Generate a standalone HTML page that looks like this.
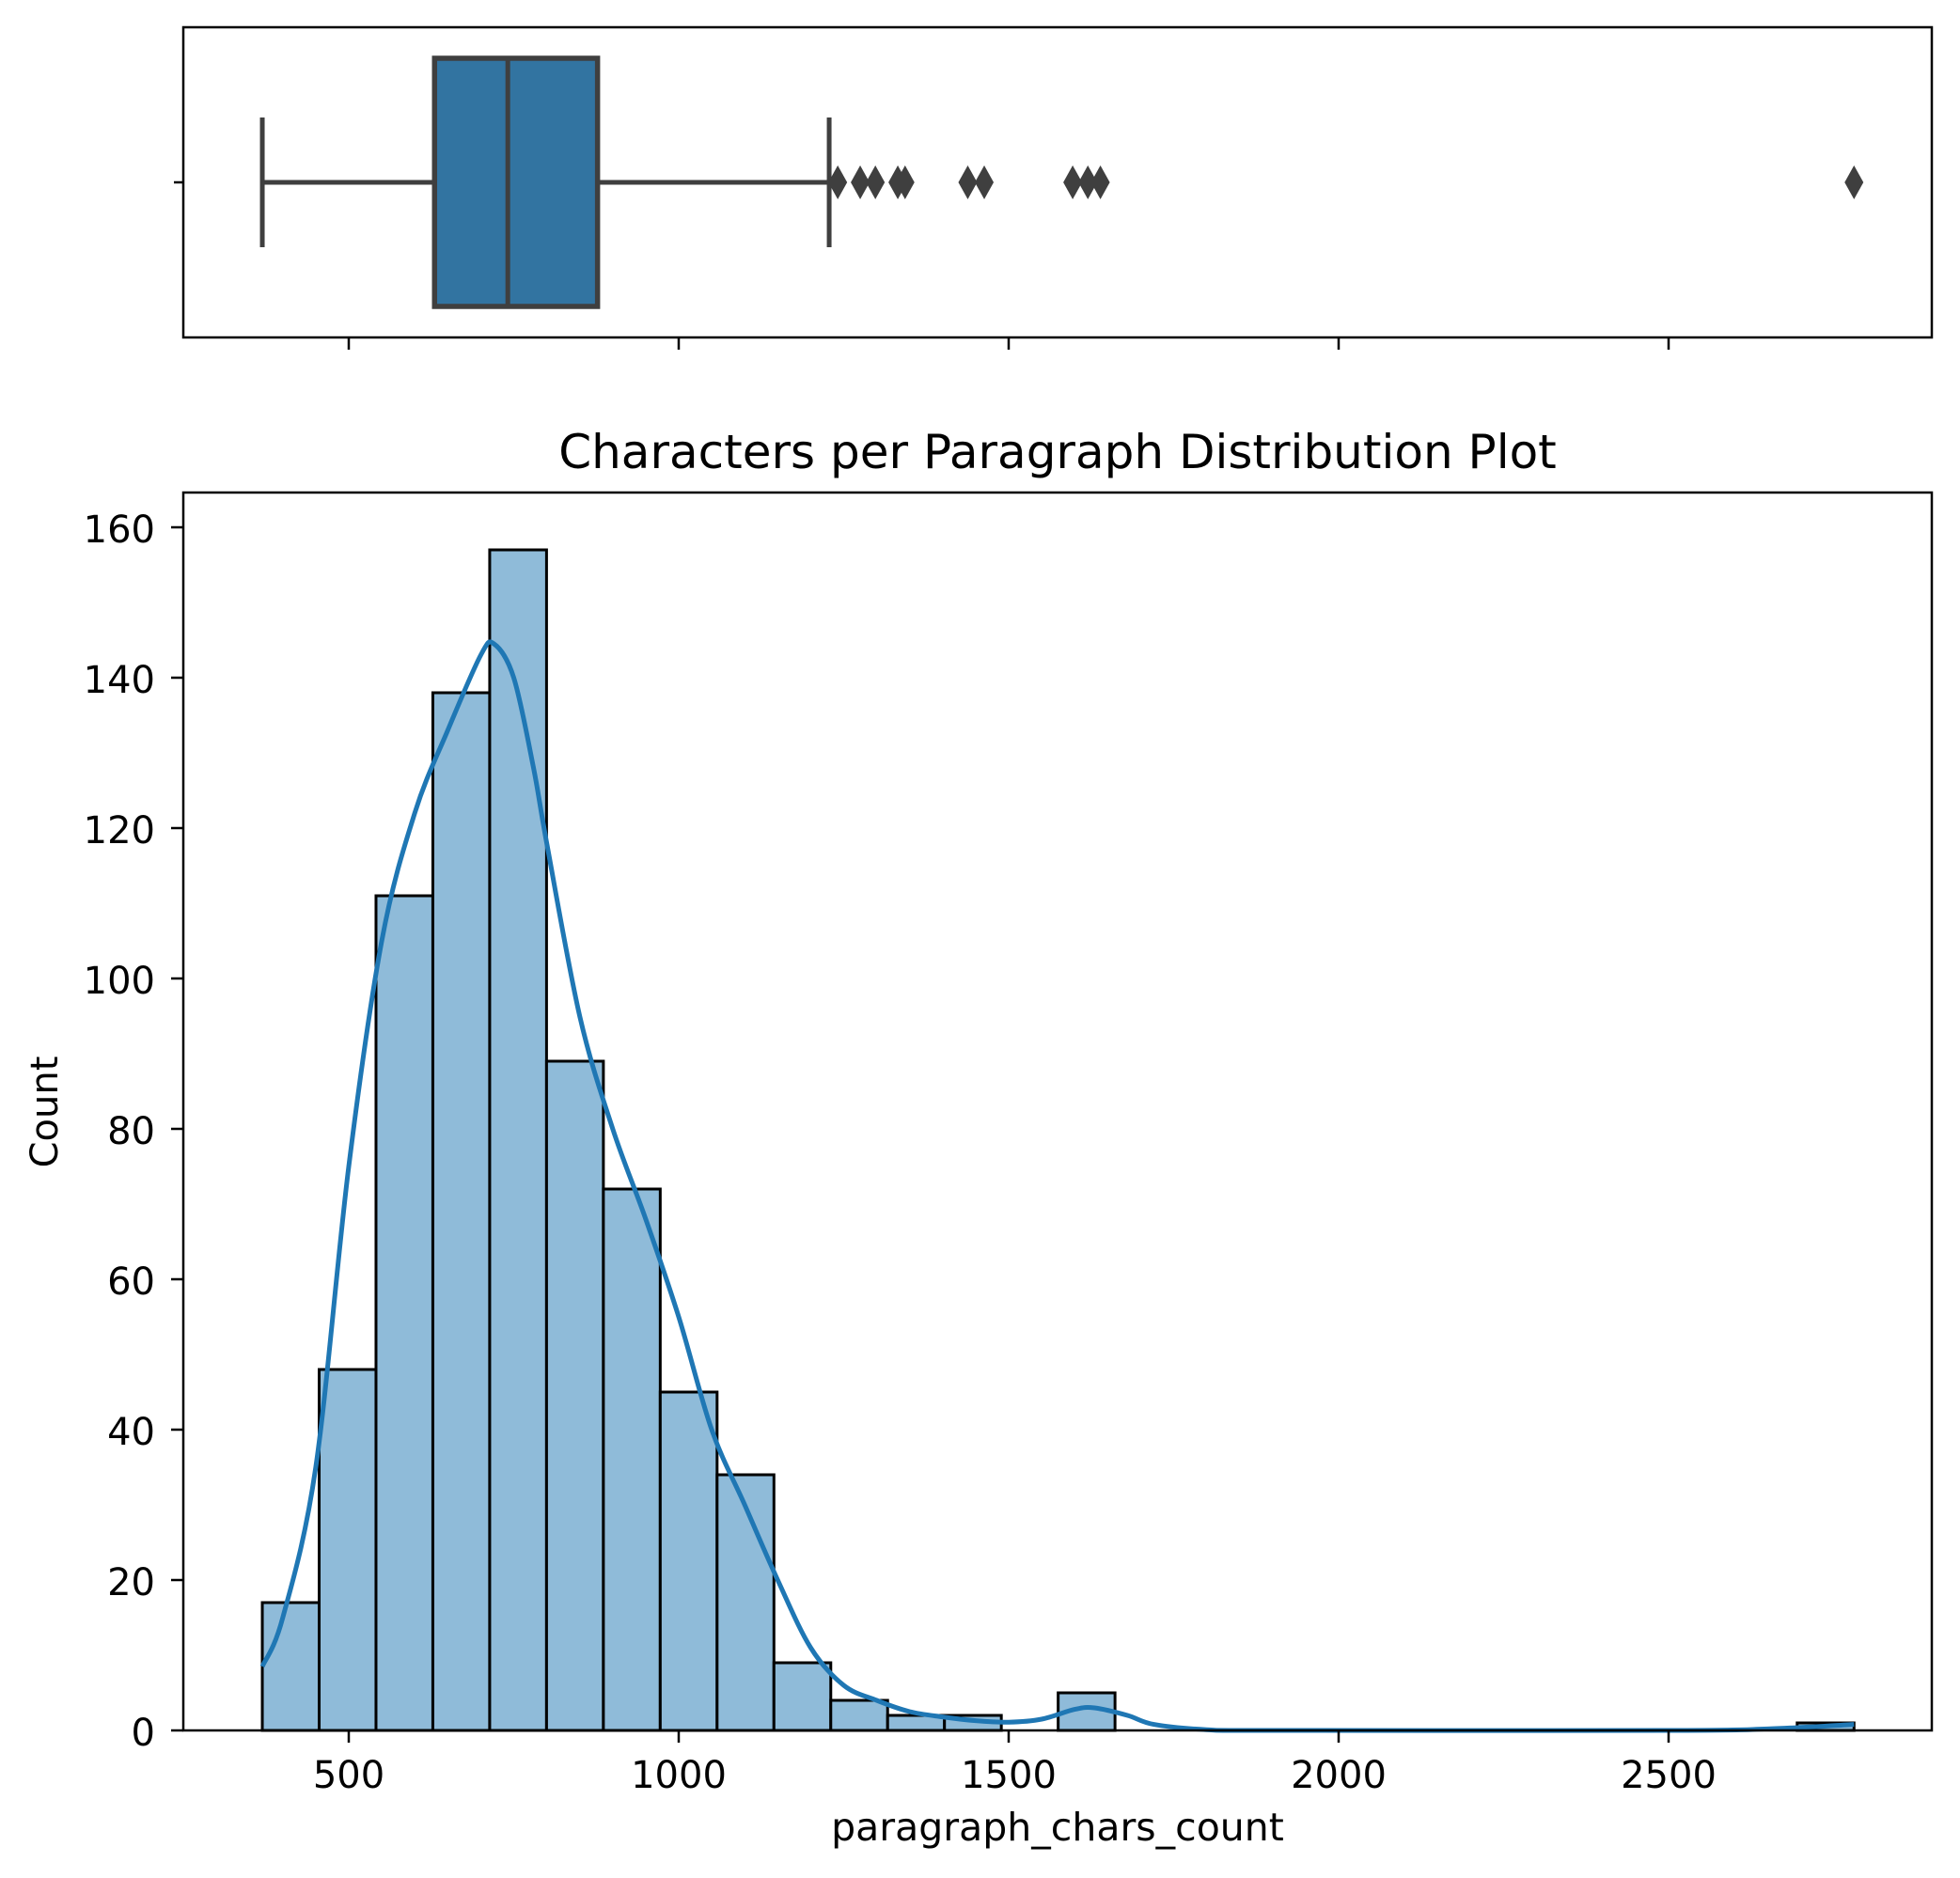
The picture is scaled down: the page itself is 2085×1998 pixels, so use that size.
<!DOCTYPE html>
<html><head><meta charset="utf-8"><style>
html,body{margin:0;padding:0;background:#fff;}
svg{display:block;font-family:"DejaVu Sans","Liberation Sans",sans-serif;}
</style></head><body>
<svg id="chart" width="2085" height="1998" viewBox="0 0 2085 1998" xmlns="http://www.w3.org/2000/svg">
<g id="topPanel"></g>
<g id="bottomPanel"></g>
</svg>
<script>
const counts = [17,48,111,138,157,89,72,45,34,9,4,2,2,0,5,0,0,0,0,0,0,0,0,0,0,0,0,1];
const binStart = 369;
const binEnd = 2781;
const kdeX = [369,400,450,500,550,600,650,700,720,750,780,800,850,900,950,1000,1050,1100,1150,1200,1250,1300,1350,1400,1450,1500,1550,1600,1630,1680,1720,1800,1900,2500,2650,2781];
const kdeY = [8.5,15,35,75,105,122,133,143,144.5,140,128,118,95,80,68,55,40,30,20,11,6,4,2.5,1.8,1.3,1.1,1.5,2.8,3,2,0.8,0.1,0,0,0.2,0.8];
const boxStats = [369,630,741,877,1228];
const outliers = [1241,1275,1298,1332,1343,1438,1463,1597,1620,1639,2781];
const xTicks = [500,1000,1500,2000,2500];
const yTicks = [0,20,40,60,80,100,120,140,160];

const NS="http://www.w3.org/2000/svg";
const L=195,R=2055;
const x=v=>371+(v-500)*0.702;
const yB=c=>1841-c*8;
function mk(parent,tag,attrs,text){const e=document.createElementNS(NS,tag);for(const k in attrs)e.setAttribute(k,attrs[k]);if(text!==undefined)e.textContent=text;parent.appendChild(e);return e;}
const topG=document.getElementById('topPanel'), botG=document.getElementById('bottomPanel');

const cy=194;
let e;
e=mk(topG,'line',{x1:x(boxStats[0]),x2:x(boxStats[1]),y1:cy,y2:cy,stroke:'#3f3f3f','stroke-width':5});


e=mk(topG,'line',{x1:x(boxStats[3]),x2:x(boxStats[4]),y1:cy,y2:cy,stroke:'#3f3f3f','stroke-width':5});


e=mk(topG,'line',{x1:x(boxStats[0]),x2:x(boxStats[0]),y1:125,y2:263,stroke:'#3f3f3f','stroke-width':5});


e=mk(topG,'line',{x1:x(boxStats[4]),x2:x(boxStats[4]),y1:125,y2:263,stroke:'#3f3f3f','stroke-width':5});


e=mk(topG,'rect',{x:x(boxStats[1]),y:62,width:x(boxStats[3])-x(boxStats[1]),height:264,fill:'#3274a1',stroke:'#3f3f3f','stroke-width':5.5});


e=mk(topG,'line',{x1:x(boxStats[2]),x2:x(boxStats[2]),y1:62,y2:326,stroke:'#3f3f3f','stroke-width':5});


outliers.forEach(o=>{const px=x(o);
  const m=mk(topG,'polygon',{points:`${px},${cy-18} ${px+10},${cy} ${px},${cy+18} ${px-10},${cy}`,fill:'#3f3f3f'});
  
  
});
e=mk(topG,'rect',{x:L,y:29,width:R-L,height:330,fill:'none',stroke:'#000','stroke-width':2.5});


mk(topG,'line',{x1:L-10,x2:L,y1:cy,y2:cy,stroke:'#000','stroke-width':2.5});
xTicks.forEach(t=>{const tk=mk(topG,'line',{x1:x(t),x2:x(t),y1:359,y2:372,stroke:'#000','stroke-width':2.5});
  
  
});

const bw=(binEnd-binStart)/counts.length;
counts.forEach((c,i)=>{if(c<=0)return;
  const x0=x(binStart+i*bw),x1=x(binStart+(i+1)*bw);
  const b=mk(botG,'rect',{x:x0,y:yB(c),width:x1-x0,height:yB(0)-yB(c),fill:'#8fbbd9',stroke:'#000','stroke-width':3});
  
  
});
const pts=kdeX.map((v,i)=>[x(v),yB(kdeY[i])]);
let d=`M${pts[0][0]},${pts[0][1]}`;
for(let i=0;i<pts.length-1;i++){const p0=pts[Math.max(0,i-1)],p1=pts[i],p2=pts[i+1],p3=pts[Math.min(pts.length-1,i+2)];
  const c1=[p1[0]+(p2[0]-p0[0])/6,p1[1]+(p2[1]-p0[1])/6],c2=[p2[0]-(p3[0]-p1[0])/6,p2[1]-(p3[1]-p1[1])/6];
  d+=` C${c1[0]},${c1[1]} ${c2[0]},${c2[1]} ${p2[0]},${p2[1]}`;}
e=mk(botG,'path',{d:d,fill:'none',stroke:'#1f77b4','stroke-width':5});


e=mk(botG,'rect',{x:L,y:524,width:R-L,height:1841-524,fill:'none',stroke:'#000','stroke-width':2.5});


xTicks.forEach(t=>{mk(botG,'line',{x1:x(t),x2:x(t),y1:1841,y2:1854,stroke:'#000','stroke-width':2.5});
  const tl=mk(botG,'text',{x:x(t),y:1902,'text-anchor':'middle','font-size':40,fill:'#000'},String(t));
  
  
});
yTicks.forEach(t=>{mk(botG,'line',{x1:L-13,x2:L,y1:yB(t),y2:yB(t),stroke:'#000','stroke-width':2.5});
  const tl=mk(botG,'text',{x:165,y:yB(t)+16,'text-anchor':'end','font-size':40,fill:'#000'},String(t));
  
  
});
e=mk(botG,'text',{x:1125,y:1958,'text-anchor':'middle','font-size':41,fill:'#000'},'paragraph_chars_count');


e=mk(botG,'text',{x:0,y:0,'text-anchor':'middle','font-size':40,fill:'#000',transform:'translate(61,1183) rotate(-90)'},'Count');


e=mk(botG,'text',{x:1125,y:498,'text-anchor':'middle','font-size':50,fill:'#000'},'Characters per Paragraph Distribution Plot');


</script>
</body></html>
